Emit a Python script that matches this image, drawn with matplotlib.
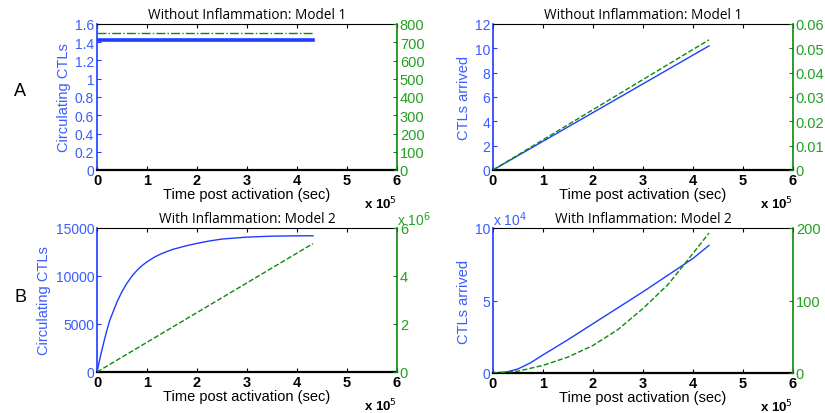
import matplotlib
matplotlib.use("Agg")
import matplotlib.pyplot as plt
from matplotlib.ticker import FuncFormatter, MultipleLocator
import numpy as np

# ---------------- data ----------------
# Panel A-left: circulating CTLs (left) and green series (right)
tA1 = [0, 4.32e5]
A1_blue = [1.42, 1.42]
A1_green = [750, 750]

# Panel A-right: CTLs arrived
tA2 = [0, 2.0e5, 4.32e5]
A2_blue = [0, 4.72, 10.2]
A2_green = [0, 0.0248, 0.0535]

# Panel B-left: circulating CTLs with inflammation
tB1 = [0, 0.05e5, 0.1e5, 0.15e5, 0.2e5, 0.25e5, 0.3e5, 0.4e5, 0.5e5, 0.6e5, 0.7e5,
       0.8e5, 0.9e5, 1.0e5, 1.15e5, 1.3e5, 1.5e5, 1.75e5, 2.0e5, 2.25e5, 2.5e5,
       3.0e5, 3.5e5, 4.0e5, 4.32e5]
B1_blue = [0, 1200, 2330, 3390, 4380, 5300, 5980, 7300, 8380, 9260, 9990,
           10590, 11080, 11480, 11970, 12350, 12750, 13100, 13400, 13650, 13850,
           14050, 14150, 14185, 14190]
tB1g = [0, 4.32e5]
B1_green = [0, 5.35e6]

# Panel B-right: CTLs arrived with inflammation
tB2 = [0, 0.25e5, 0.5e5, 0.75e5, 1.0e5, 1.25e5, 1.5e5, 2.0e5, 2.5e5, 3.0e5, 3.5e5, 4.0e5, 4.32e5]
B2_blue = [0, 500, 2800, 7000, 12500, 17700, 23000, 34000, 45000, 56000, 67500, 79000, 88000]
tB2g = [0, 0.5e5, 1.0e5, 1.5e5, 2.0e5, 2.5e5, 3.0e5, 3.5e5, 3.85e5, 4.32e5]
B2_green = [0, 2.5, 10.5, 22, 38, 60, 89, 122, 152, 193]

titles = ["Without Inflammation: Model 1", "Without Inflammation: Model 1",
          "With Inflammation: Model 2", "With Inflammation: Model 2"]
ylabels = ["Circulating CTLs", "CTLs arrived", "Circulating CTLs", "CTLs arrived"]
xlabel = "Time post activation (sec)"

BLUE = "#1f3cff"
BLUE_TXT = "#3a5cff"
GREEN = "#0a8a0a"
GREEN_TXT = "#22a022"

plt.rcParams['font.family'] = ['Liberation Sans', 'DejaVu Sans']

fig = plt.figure(figsize=(8.25, 4.14), dpi=100)
W, H = 825, 414

def ax_rect(x0, x1, y0, y1):
    return [x0 / W, (H - y1) / H, (x1 - x0) / W, (y1 - y0) / H]

rects = [ax_rect(97, 397, 25, 171), ax_rect(493, 793, 25, 171),
         ax_rect(97, 397, 229, 373), ax_rect(493, 793, 229, 374)]

xfmt = FuncFormatter(lambda v, p: f"{v/1e5:g}")

def setup(ax, ax2, left_lim, left_step, left_fmt, right_lim, right_step, right_fmt, title, ylabel):
    ax.set_xlim(0, 6e5)
    ax.xaxis.set_major_locator(MultipleLocator(1e5))
    ax.xaxis.set_major_formatter(xfmt)
    ax.set_ylim(*left_lim)
    ax.yaxis.set_major_locator(MultipleLocator(left_step))
    ax.yaxis.set_major_formatter(left_fmt)
    ax2.set_ylim(*right_lim)
    ax2.yaxis.set_major_locator(MultipleLocator(right_step))
    ax2.yaxis.set_major_formatter(right_fmt)
    ax.tick_params(axis='x', direction='in', length=3, width=0.8, pad=2,
                   labelsize=10.5, top=True, labelcolor='black')
    for lab in ax.get_xticklabels():
        lab.set_fontweight('bold')
    ax.tick_params(axis='y', direction='in', length=3, colors=BLUE, labelcolor=BLUE_TXT,
                   labelsize=10, pad=2)
    ax2.tick_params(axis='y', direction='in', length=3, colors=GREEN, labelcolor=GREEN_TXT,
                    labelsize=10.5, pad=2)
    ax.spines['left'].set_color(BLUE)
    ax.spines['left'].set_linewidth(1.2)
    ax2.spines['right'].set_color(GREEN)
    ax2.spines['right'].set_linewidth(1.2)
    ax.spines['bottom'].set_linewidth(1.6)
    ax.spines['top'].set_linewidth(0.8)
    for s in ['left', 'top', 'bottom']:
        ax2.spines[s].set_visible(False)
    ax.spines['right'].set_visible(False)
    ax.set_title(title, fontsize=9.8, family=['Open Sans', 'DejaVu Sans'], pad=4)
    ax.set_ylabel(ylabel, color=BLUE_TXT, fontsize=10.5, labelpad=3)
    ax.set_xlabel(xlabel, fontsize=10.5, labelpad=0)
    ax.text(1.0, -0.17, r"x 10$^{5}$", transform=ax.transAxes, ha='right', va='top',
            fontsize=9.5, fontweight='bold')

# Panel A left
ax = fig.add_axes(rects[0]); ax2 = ax.twinx()
ax.plot(tA1, A1_blue, color=BLUE, lw=2.6)
ax2.plot(tA1, A1_green, color=GREEN, lw=1.0, ls='-.')
setup(ax, ax2, (0, 1.6), 0.2, FuncFormatter(lambda v, p: f"{v:.1f}".rstrip('0').rstrip('.') if v else "0"),
      (0, 800), 100, FuncFormatter(lambda v, p: f"{v:g}"), titles[0], ylabels[0])

# Panel A right
ax = fig.add_axes(rects[1]); ax2 = ax.twinx()
ax.plot(tA2, A2_blue, color=BLUE, lw=1.0)
ax2.plot(tA2, A2_green, color=GREEN, lw=1.0, ls='--')
setup(ax, ax2, (0, 12), 2, FuncFormatter(lambda v, p: f"{v:g}"),
      (0, 0.06), 0.01, FuncFormatter(lambda v, p: f"{v:.2f}" if v else "0"), titles[1], ylabels[1])

# Panel B left
ax = fig.add_axes(rects[2]); ax2 = ax.twinx()
ax.plot(tB1, B1_blue, color=BLUE, lw=1.0)
ax2.plot(tB1g, B1_green, color=GREEN, lw=1.0, ls='--')
setup(ax, ax2, (0, 15000), 5000, FuncFormatter(lambda v, p: f"{v:g}"),
      (0, 6e6), 2e6, FuncFormatter(lambda v, p: f"{v/1e6:g}"), titles[2], ylabels[2])
ax2.text(1.0, 1.0, r"x 10$^{6}$", transform=ax2.transAxes, ha='left', va='bottom',
         fontsize=10, color=GREEN_TXT)

# Panel B right
ax = fig.add_axes(rects[3]); ax2 = ax.twinx()
ax.plot(tB2, B2_blue, color=BLUE, lw=1.0)
ax2.plot(tB2g, B2_green, color=GREEN, lw=1.0, ls='--')
setup(ax, ax2, (0, 1e5), 5e4, FuncFormatter(lambda v, p: f"{v/1e4:g}"),
      (0, 200), 100, FuncFormatter(lambda v, p: f"{v:g}"), titles[3], ylabels[3])
ax.text(0.0, 1.0, r"x 10$^{4}$", transform=ax.transAxes, ha='left', va='bottom',
        fontsize=10, color=BLUE_TXT)

fig.text(20 / W, 1 - 91 / H, "A", fontsize=13, ha='center', va='center')
fig.text(21 / W, 1 - 298 / H, "B", fontsize=13, ha='center', va='center')

fig.savefig("out.png", dpi=100)
